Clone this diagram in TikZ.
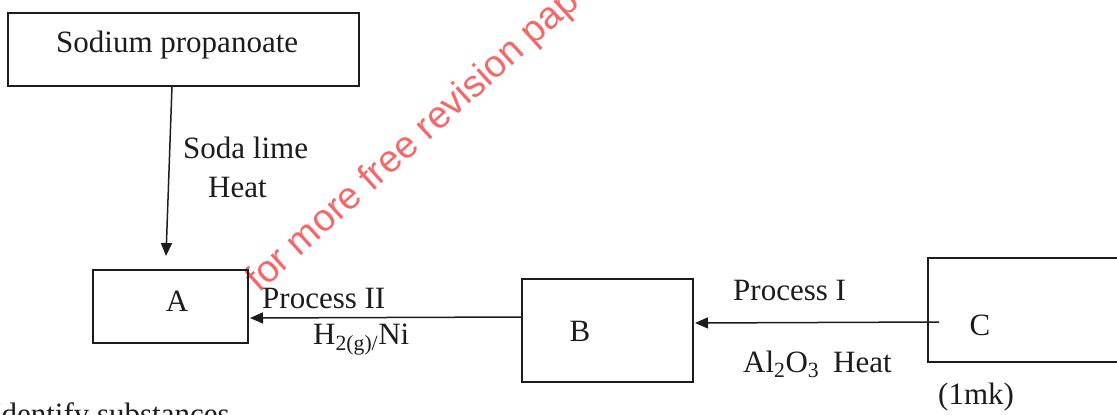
\documentclass[tikz,border=0pt]{standalone}
\usepackage{fontspec}
\setmainfont{Liberation Serif}
\newfontfamily\markfont{Liberation Sans}
\usetikzlibrary{arrows.meta}
\definecolor{inkline}{RGB}{28,28,28}
\definecolor{markred}{RGB}{246,104,104}
\begin{document}
\begin{tikzpicture}[x=1pt,y=-1pt,
  every node/.style={font=\fontsize{31}{37}\selectfont, text=inkline},
  box/.style={draw=inkline, line width=1.6pt, inner sep=0pt, outer sep=0pt},
  lbl/.style={anchor=base west, inner sep=0pt},
  mid/.style={anchor=base, inner sep=0pt},
  conn/.style={draw=inkline, line width=1.5pt, -{Triangle[length=13pt,width=11pt]}},
  wmark/.style={anchor=base west, inner sep=0pt, rotate=42,
    font=\markfont\fontsize{38}{45}\selectfont, text=markred}]
\useasboundingbox (0,0) rectangle (1117,415);
\clip (0,0) rectangle (1117,415);

% watermark
\node[wmark] (mark) at (259,294) {for more free revision papers};

% boxes
\node[box, minimum width=351pt, minimum height=73pt] (sp) at (183.5,49.5) {};
\node[box, minimum width=155pt, minimum height=73pt] (A) at (170.5,306.5) {};
\node[box, minimum width=171pt, minimum height=103pt] (B) at (607.5,330.5) {};
\node[box, minimum width=210pt, minimum height=104pt] (C) at (1033,310) {};

% box texts
\node[lbl] (sptext) at (56,52) {Sodium propanoate};
\node[mid] (Atext) at (177,311) {A};
\node[mid] (Btext) at (580,341) {B};
\node[mid] (Ctext) at (980,335) {C};

% connectors
\draw[conn] ([xshift=-11.5pt]sp.south) -- ([xshift=-4.5pt,yshift=14pt]A.north);
\draw[conn] ([yshift=13.5pt]B.west) -- ([xshift=2pt,yshift=-11.5pt]A.east);
\draw[conn] ([xshift=11pt,yshift=-12pt]C.west) -- ([xshift=2pt,yshift=7.5pt]B.east);

% reaction conditions
\node[lbl] (soda) at (183,158) {Soda lime};
\node[lbl] (heat1) at (208,197) {Heat};
\node[lbl] (p2) at (262,308) {Process II};
\node[lbl] (h2) at (313,344) {H\textsubscript{2(g)/}Ni};
\node[lbl] (p1) at (733,300) {Process I};
\node[lbl] (al) at (743,372) {Al\textsubscript{2}O\textsubscript{3}\hspace{0.45em}Heat};

% marks and question text
\node[lbl] (mk) at (938,404) {(1mk)};
\node[lbl] (ident) at (-9,424) {Identify substances};
\end{tikzpicture}
\end{document}
